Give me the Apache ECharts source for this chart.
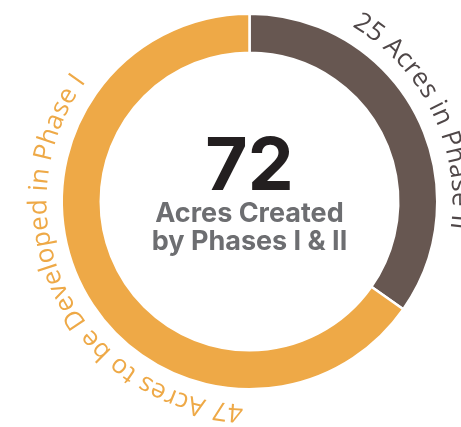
<!DOCTYPE html>
<html>
<head>
<meta charset="utf-8">
<script src="https://cdn.jsdelivr.net/npm/echarts@6/dist/echarts.min.js"></script>
<style>
html,body{margin:0;padding:0;background:#fff;}
#chart{width:461px;height:427px;}
</style>
</head>
<body>
<div id="chart"></div>
<script>
// ---- data ----
const categories = ['Acres in Phase II', 'Acres to be Developed in Phase I'];
const values = [25, 47];
const colors = ['#675751', '#EEA947'];
const labelColors = ['#4f4748', '#EEA947'];
const centerLines = ['Acres Created', 'by Phases I & II'];

// ---- layout ----
const CX = 249.5, CY = 201.5;
const R_IN = 150, R_OUT = 186.5, GAP = 2.5;
const LABEL_R = 203;
const LABEL_SHIFT = 1.5 * Math.PI / 180;
const LABEL_FONT = { size: 26, family: '"Open Sans", "Liberation Sans", sans-serif', weight: 400, spacing: 0.3 };

const total = values.reduce((a, b) => a + b, 0);
const ctx = document.createElement('canvas').getContext('2d');
function fontStr(w, s, f) { return w + ' ' + s + 'px ' + f; }
function baselineOffset(font) {
  ctx.font = font;
  ctx.textBaseline = 'middle';
  const m = ctx.measureText('H');
  ctx.textBaseline = 'alphabetic';
  return m.actualBoundingBoxDescent;
}

const graphics = [];

// curved labels
let acc = 0;
values.forEach((v, i) => {
  const a0 = acc / total * Math.PI * 2;
  acc += v;
  const a1 = acc / total * Math.PI * 2;
  const mid = (a0 + a1) / 2 + LABEL_SHIFT;
  const text = v + ' ' + categories[i];
  const font = fontStr(LABEL_FONT.weight, LABEL_FONT.size, LABEL_FONT.family);
  const sp = LABEL_FONT.spacing;
  const off = baselineOffset(font);
  ctx.font = font;
  const W = ctx.measureText(text).width + sp * (text.length - 1);
  const start = mid - W / 2 / LABEL_R;
  for (let k = 0; k < text.length; k++) {
    const ch = text[k];
    if (ch === ' ') continue;
    const pre = ctx.measureText(text.slice(0, k)).width + sp * k;
    const cw = ctx.measureText(ch).width;
    const th = start + (pre + cw / 2) / LABEL_R;
    const r = LABEL_R + off;
    graphics.push({
      type: 'text',
      x: CX + r * Math.sin(th),
      y: CY - r * Math.cos(th),
      rotation: -th,
      silent: true,
      style: {
        text: ch,
        font: font,
        fill: labelColors[i],
        align: 'center', textAlign: 'center',
        verticalAlign: 'middle', textVerticalAlign: 'middle'
      }
    });
  }
});

// center texts
function centerText(str, baseY, size, weight, color, family) {
  const font = fontStr(weight, size, family);
  const off = baselineOffset(font);
  graphics.push({
    type: 'text', x: CX, y: baseY - off, silent: true,
    style: { text: str, font: font, fill: color,
      align: 'center', textAlign: 'center', verticalAlign: 'middle', textVerticalAlign: 'middle' }
  });
}
const CFAM = 'Inter, "Liberation Sans", sans-serif';
centerText(String(total), 190, 73, 700, '#231F20', CFAM);
centerText(centerLines[0], 222, 27, 700, '#6D6E71', CFAM);
centerText(centerLines[1], 250, 27, 700, '#6D6E71', CFAM);

const chart = echarts.init(document.getElementById('chart'), null, { renderer: 'canvas' });
chart.setOption({
  animation: false,
  backgroundColor: '#ffffff',
  series: [{
    type: 'pie',
    center: [CX, CY],
    radius: [R_IN - GAP / 2, R_OUT + GAP / 2],
    startAngle: 90,
    clockwise: true,
    silent: true,
    label: { show: false },
    labelLine: { show: false },
    itemStyle: { borderColor: '#ffffff', borderWidth: GAP },
    data: values.map((v, i) => ({ value: v, name: categories[i], itemStyle: { color: colors[i] } }))
  }],
  graphic: graphics
});
</script>
</body>
</html>
